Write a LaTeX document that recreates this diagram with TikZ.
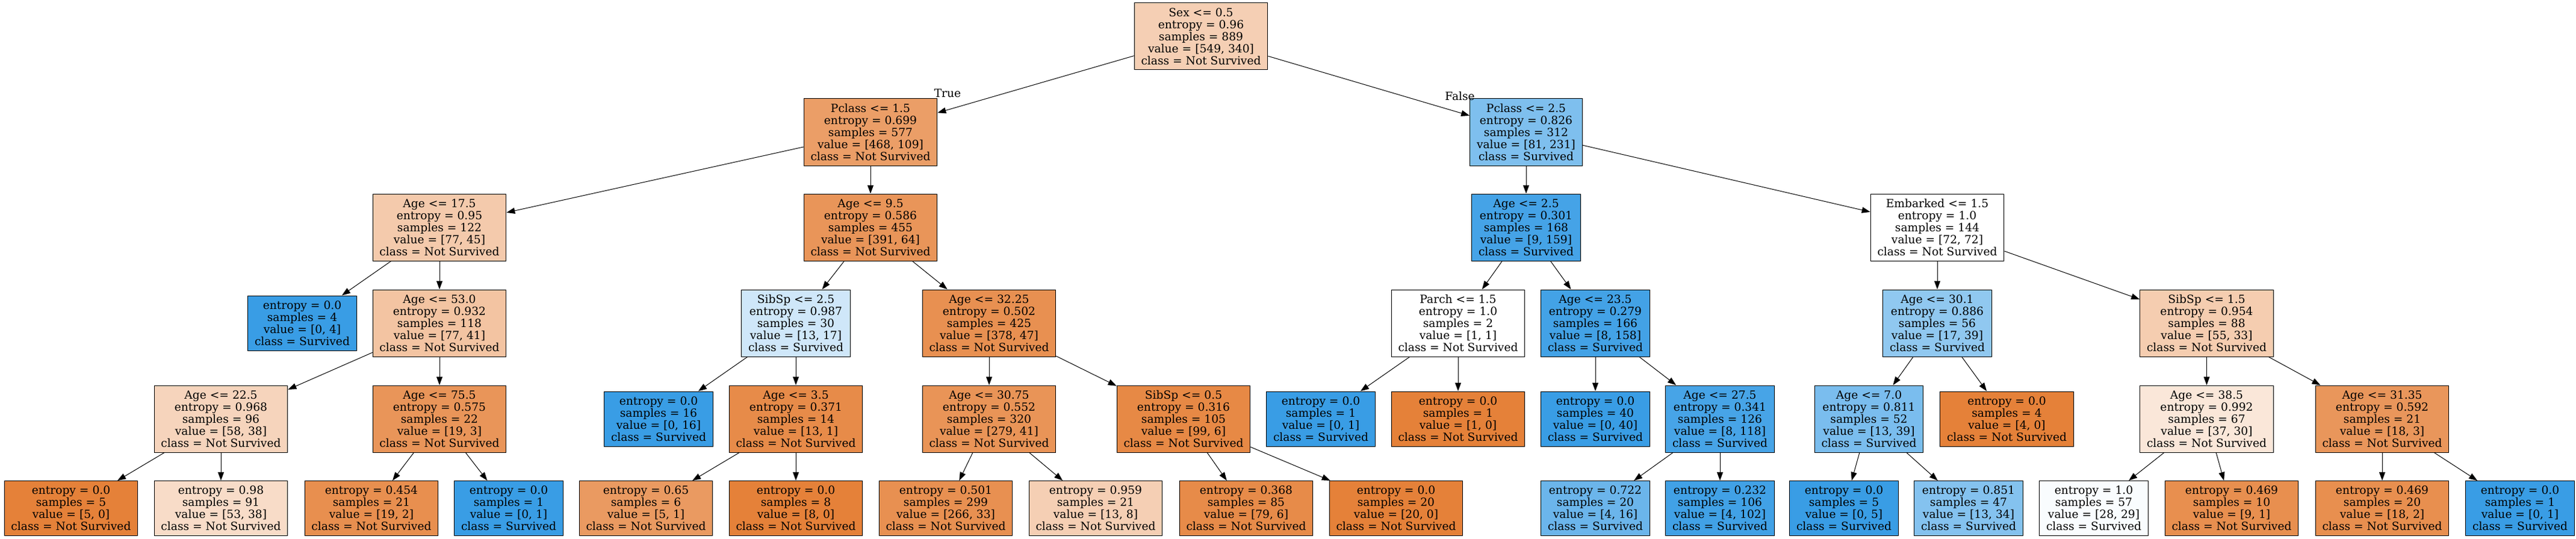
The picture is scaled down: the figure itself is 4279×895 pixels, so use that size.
\documentclass[tikz,border=0pt]{standalone}
\usepackage{fontspec}
\setmainfont{DejaVu Serif}
\usetikzlibrary{arrows.meta}
\definecolor{ns}{RGB}{229,129,57}
\definecolor{sv}{RGB}{57,157,229}
\begin{document}
\begin{tikzpicture}[x=0.75pt,y=-0.75pt,>={Triangle[length=10.5pt,width=7.5pt]},
    split/.style={draw,line width=0.75pt,align=center,inner xsep=8.5pt,inner ysep=2pt,
      minimum height=83.25pt,font=\fontsize{14}{15}\selectfont},
    leaf/.style={split,minimum height=68.25pt},
    branch/.style={font=\fontsize{14}{15}\selectfont,inner sep=0pt}]
  \useasboundingbox (0,0) rectangle (4279,895);
  \node[split,fill=ns!38] (n0) at (1995,60.5) {Sex <= 0.5\\entropy = 0.96\\samples = 889\\value = [549, 340]\\class = Not Survived};
  \node[split,fill=ns!77] (n1) at (1446,219.5) {Pclass <= 1.5\\entropy = 0.699\\samples = 577\\value = [468, 109]\\class = Not Survived};
  \node[split,fill=sv!65] (n24) at (2535,219.5) {Pclass <= 2.5\\entropy = 0.826\\samples = 312\\value = [81, 231]\\class = Survived};
  \node[split,fill=ns!42] (n2) at (730,377.5) {Age <= 17.5\\entropy = 0.95\\samples = 122\\value = [77, 45]\\class = Not Survived};
  \node[split,fill=ns!84] (n11) at (1446,377.5) {Age <= 9.5\\entropy = 0.586\\samples = 455\\value = [391, 64]\\class = Not Survived};
  \node[split,fill=sv!94] (n25) at (2535,377.5) {Age <= 2.5\\entropy = 0.301\\samples = 168\\value = [9, 159]\\class = Survived};
  \node[split,fill=white] (n34) at (3218,377.5) {Embarked <= 1.5\\entropy = 1.0\\samples = 144\\value = [72, 72]\\class = Not Survived};
  \node[leaf,fill=sv] (n3) at (502,536.5) {entropy = 0.0\\samples = 4\\value = [0, 4]\\class = Survived};
  \node[split,fill=ns!47] (n4) at (730,536.5) {Age <= 53.0\\entropy = 0.932\\samples = 118\\value = [77, 41]\\class = Not Survived};
  \node[split,fill=sv!24] (n12) at (1322,536.5) {SibSp <= 2.5\\entropy = 0.987\\samples = 30\\value = [13, 17]\\class = Survived};
  \node[split,fill=ns!88] (n17) at (1643,536.5) {Age <= 32.25\\entropy = 0.502\\samples = 425\\value = [378, 47]\\class = Not Survived};
  \node[split,fill=white] (n26) at (2422,536.5) {Parch <= 1.5\\entropy = 1.0\\samples = 2\\value = [1, 1]\\class = Not Survived};
  \node[split,fill=sv!95] (n29) at (2650,536.5) {Age <= 23.5\\entropy = 0.279\\samples = 166\\value = [8, 158]\\class = Survived};
  \node[split,fill=sv!56] (n35) at (3218,536.5) {Age <= 30.1\\entropy = 0.886\\samples = 56\\value = [17, 39]\\class = Survived};
  \node[split,fill=ns!40] (n40) at (3665.5,536.5) {SibSp <= 1.5\\entropy = 0.954\\samples = 88\\value = [55, 33]\\class = Not Survived};
  \node[split,fill=ns!34] (n5) at (367,695.5) {Age <= 22.5\\entropy = 0.968\\samples = 96\\value = [58, 38]\\class = Not Survived};
  \node[split,fill=ns!84] (n8) at (730,695.5) {Age <= 75.5\\entropy = 0.575\\samples = 22\\value = [19, 3]\\class = Not Survived};
  \node[leaf,fill=sv] (n13) at (1094,695.5) {entropy = 0.0\\samples = 16\\value = [0, 16]\\class = Survived};
  \node[split,fill=ns!92] (n14) at (1322,695.5) {Age <= 3.5\\entropy = 0.371\\samples = 14\\value = [13, 1]\\class = Not Survived};
  \node[split,fill=ns!85] (n18) at (1643,695.5) {Age <= 30.75\\entropy = 0.552\\samples = 320\\value = [279, 41]\\class = Not Survived};
  \node[split,fill=ns!94] (n21) at (1966,695.5) {SibSp <= 0.5\\entropy = 0.316\\samples = 105\\value = [99, 6]\\class = Not Survived};
  \node[leaf,fill=sv] (n27) at (2194,695.5) {entropy = 0.0\\samples = 1\\value = [0, 1]\\class = Survived};
  \node[leaf,fill=ns] (n28) at (2422,695.5) {entropy = 0.0\\samples = 1\\value = [1, 0]\\class = Not Survived};
  \node[leaf,fill=sv] (n30) at (2650,695.5) {entropy = 0.0\\samples = 40\\value = [0, 40]\\class = Survived};
  \node[split,fill=sv!93] (n31) at (2857,695.5) {Age <= 27.5\\entropy = 0.341\\samples = 126\\value = [8, 118]\\class = Survived};
  \node[split,fill=sv!67] (n36) at (3104.5,695.5) {Age <= 7.0\\entropy = 0.811\\samples = 52\\value = [13, 39]\\class = Survived};
  \node[leaf,fill=ns] (n39) at (3333.5,695.5) {entropy = 0.0\\samples = 4\\value = [4, 0]\\class = Not Survived};
  \node[split,fill=ns!19] (n41) at (3665.5,695.5) {Age <= 38.5\\entropy = 0.992\\samples = 67\\value = [37, 30]\\class = Not Survived};
  \node[split,fill=ns!83] (n44) at (3957,695.5) {Age <= 31.35\\entropy = 0.592\\samples = 21\\value = [18, 3]\\class = Not Survived};
  \node[leaf,fill=ns] (n6) at (118,844) {entropy = 0.0\\samples = 5\\value = [5, 0]\\class = Not Survived};
  \node[leaf,fill=ns!28] (n7) at (367,844) {entropy = 0.98\\samples = 91\\value = [53, 38]\\class = Not Survived};
  \node[leaf,fill=ns!89] (n9) at (617,844) {entropy = 0.454\\samples = 21\\value = [19, 2]\\class = Not Survived};
  \node[leaf,fill=sv] (n10) at (845,844) {entropy = 0.0\\samples = 1\\value = [0, 1]\\class = Survived};
  \node[leaf,fill=ns!80] (n15) at (1073,844) {entropy = 0.65\\samples = 6\\value = [5, 1]\\class = Not Survived};
  \node[leaf,fill=ns] (n16) at (1322,844) {entropy = 0.0\\samples = 8\\value = [8, 0]\\class = Not Survived};
  \node[leaf,fill=ns!88] (n19) at (1571,844) {entropy = 0.501\\samples = 299\\value = [266, 33]\\class = Not Survived};
  \node[leaf,fill=ns!38] (n20) at (1820,844) {entropy = 0.959\\samples = 21\\value = [13, 8]\\class = Not Survived};
  \node[leaf,fill=ns!92] (n22) at (2070,844) {entropy = 0.368\\samples = 85\\value = [79, 6]\\class = Not Survived};
  \node[leaf,fill=ns] (n23) at (2319,844) {entropy = 0.0\\samples = 20\\value = [20, 0]\\class = Not Survived};
  \node[leaf,fill=sv!75] (n32) at (2650,844) {entropy = 0.722\\samples = 20\\value = [4, 16]\\class = Survived};
  \node[leaf,fill=sv!96] (n33) at (2857,844) {entropy = 0.232\\samples = 106\\value = [4, 102]\\class = Survived};
  \node[leaf,fill=sv] (n37) at (3063,844) {entropy = 0.0\\samples = 5\\value = [0, 5]\\class = Survived};
  \node[leaf,fill=sv!62] (n38) at (3270,844) {entropy = 0.851\\samples = 47\\value = [13, 34]\\class = Survived};
  \node[leaf,fill=sv!3] (n42) at (3478,844) {entropy = 1.0\\samples = 57\\value = [28, 29]\\class = Survived};
  \node[leaf,fill=ns!89] (n43) at (3707,844) {entropy = 0.469\\samples = 10\\value = [9, 1]\\class = Not Survived};
  \node[leaf,fill=ns!89] (n45) at (3957,844) {entropy = 0.469\\samples = 20\\value = [18, 2]\\class = Not Survived};
  \node[leaf,fill=sv] (n46) at (4186,844) {entropy = 0.0\\samples = 1\\value = [0, 1]\\class = Survived};
  \node[branch] (truelbl) at (1574,155) {True};
  \node[branch] (falselbl) at (2425,160) {False};
  \foreach \a/\b in {0/1,0/24,1/2,1/11,2/3,2/4,4/5,4/8,5/6,5/7,8/9,8/10,11/12,11/17,12/13,12/14,
      14/15,14/16,17/18,17/21,18/19,18/20,21/22,21/23,24/25,24/34,25/26,25/29,26/27,26/28,
      29/30,29/31,31/32,31/33,34/35,34/40,35/36,35/39,36/37,36/38,40/41,40/44,41/42,41/43,44/45,44/46}
    \draw[->,line width=0.75pt] (n\a) -- (n\b);
\end{tikzpicture}
\end{document}
